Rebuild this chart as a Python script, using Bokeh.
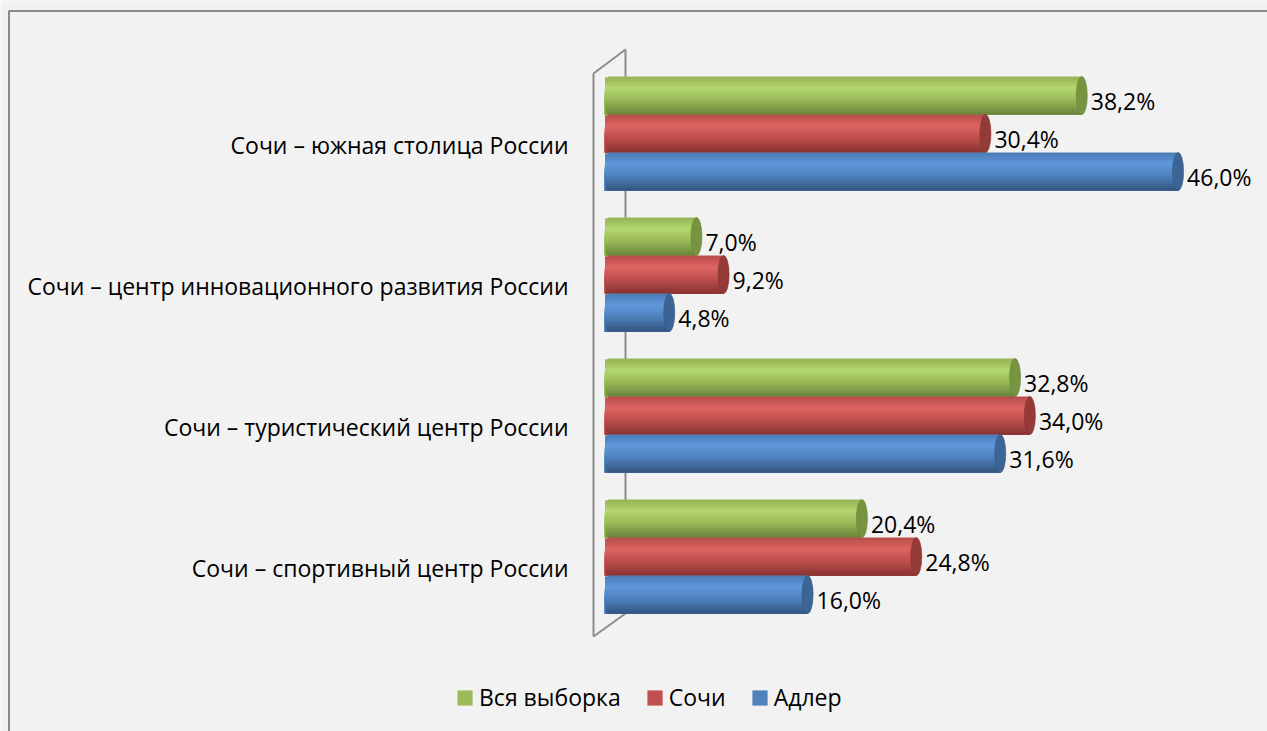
import numpy as np
from bokeh.plotting import figure
from bokeh.models import Range1d, ColumnDataSource, Legend, LegendItem
from bokeh.embed import file_html
from bokeh.resources import INLINE
from bokeh.core.properties import value

# ---------------- data ----------------
categories = [
    "Сочи – южная столица России",
    "Сочи – центр инновационного развития России",
    "Сочи – туристический центр России",
    "Сочи – спортивный центр России",
]
series_names = ["Вся выборка", "Сочи", "Адлер"]
vals_all = [38.2, 7.0, 32.8, 20.4]
vals_sochi = [30.4, 9.2, 34.0, 24.8]
vals_adler = [46.0, 4.8, 31.6, 16.0]
series_values = [vals_all, vals_sochi, vals_adler]

# colours: (highlight, mid, dark, cap)
palettes = [
    ("#B4D76E", "#9BBB59", "#66843A", "#779540"),
    ("#DE6562", "#C0504D", "#873231", "#943B38"),
    ("#5F99DA", "#4F81BD", "#33557F", "#3C6494"),
]

# ---------------- layout ----------------
W, H = 1267, 731
X0_PX = 609.5       # px of value 0
PX_PER = 12.35      # px per percent
Y0_PX = 133.0       # px of first group centre
GROUP_PX = 141.0
BAR_H = 38.0 / GROUP_PX
R = 5.5 / PX_PER    # end-cap radius in data units
FONT = "Open Sans"
FS = "23px"

p = figure(width=W, height=H, output_backend="svg", toolbar_location=None,
           x_range=Range1d(-X0_PX / PX_PER, (W - X0_PX) / PX_PER),
           y_range=Range1d((H - Y0_PX) / GROUP_PX, -Y0_PX / GROUP_PX),
           x_axis_location=None, y_axis_location=None, min_border=0)
p.grid.visible = False
p.outline_line_color = None
p.background_fill_color = "#F2F2F2"
p.border_fill_color = "#F2F2F2"


def px2x(px):
    return (px - X0_PX) / PX_PER


def px2y(py):
    return (py - Y0_PX) / GROUP_PX


# chart border (left and top)
p.line([px2x(8.5), px2x(8.5), px2x(W + 5)], [px2y(H + 5), px2y(10.5), px2y(10.5)],
       line_color="#8A8A8A", line_width=2)

# 3-D wall of the category axis
fx, bx = px2x(593), px2x(625)
wall = "#8C8C8C"
p.line([bx, bx], [px2y(49), px2y(613)], line_color=wall, line_width=2)
p.line([fx, bx], [px2y(73), px2y(49)], line_color=wall, line_width=2)
p.line([fx, fx], [px2y(73), px2y(636)], line_color=wall, line_width=2)
p.line([fx, bx], [px2y(636), px2y(613)], line_color=wall, line_width=2)


def hex2rgb(h):
    h = h.lstrip("#")
    return np.array([int(h[i:i + 2], 16) for i in (0, 2, 4)], dtype=float)


def rgb2hex(c):
    c = np.clip(np.round(c), 0, 255).astype(int)
    return "#%02x%02x%02x" % tuple(c)


def grad(pal, u):
    hi, mid, dk = hex2rgb(pal[0]), hex2rgb(pal[1]), hex2rgb(pal[2])
    top = mid * 0.95
    stops = [(0.0, top), (0.3, hi), (0.6, mid), (1.0, dk)]
    for (u0, c0), (u1, c1) in zip(stops[:-1], stops[1:]):
        if u <= u1:
            f = (u - u0) / (u1 - u0)
            return c0 + (c1 - c0) * f
    return dk


N = 16
offsets = [-BAR_H, 0.0, BAR_H]
base_renderers = []
for s, (vals, pal) in enumerate(zip(series_values, palettes)):
    ypos = [g + offsets[s] for g in range(len(vals))]
    # base layer (flat colour, also used for the legend swatch)
    base = ColumnDataSource(dict(y=ypos, left=[-R * 0.9] * len(vals), right=vals))
    br = p.hbar(y="y", left="left", right="right", height=BAR_H * 0.96,
                fill_color=pal[1], line_color=None, source=base)
    base_renderers.append(br)
    # shading strips: each strip runs from its own top edge down to the bar
    # bottom, later strips cover the earlier ones -> no visible seams
    ys, hs, lefts, rights, cols = [], [], [], [], []
    for g, v in enumerate(vals):
        bottom = ypos[g] + BAR_H / 2
        for k in range(N):
            u0 = k / N
            t = 2 * ((k + 0.5) / N) - 1
            top = ypos[g] - BAR_H / 2 + u0 * BAR_H
            ys.append((top + bottom) / 2)
            hs.append(bottom - top)
            lefts.append(-R * np.sqrt(max(1 - t * t, 0)))
            rights.append(v)
            cols.append(rgb2hex(grad(pal, (k + 0.5) / N)))
    src = ColumnDataSource(dict(y=ys, h=hs, left=lefts, right=rights, c=cols))
    p.hbar(y="y", left="left", right="right", height="h",
           fill_color="c", line_color=None, source=src)
    cap = ColumnDataSource(dict(x=vals, y=ypos))
    p.ellipse(x="x", y="y", width=2 * R, height=BAR_H, fill_color=pal[3],
              line_color=pal[2], line_width=0.6, source=cap)
    lab = ColumnDataSource(dict(x=vals, y=ypos,
                                t=[("%.1f%%" % v).replace(".", ",") for v in vals]))
    p.text(x="x", y="y", text="t", source=lab, x_offset=9, y_offset=5,
           text_align="left", text_baseline="middle", text_font=value(FONT),
           text_font_size=FS, text_color="#000000")

# category labels
cat_src = ColumnDataSource(dict(x=[px2x(568)] * len(categories),
                                y=list(range(len(categories))), t=categories))
p.text(x="x", y="y", text="t", source=cat_src, y_offset=11, text_align="right",
       text_baseline="middle", text_font=value(FONT), text_font_size=FS,
       text_color="#000000")

# legend
items = [LegendItem(label=name, renderers=[r], index=0)
         for name, r in zip(series_names, base_renderers)]
leg = Legend(items=items, orientation="horizontal", location=(455, 18),
             glyph_width=19, glyph_height=19, label_height=19, label_standoff=5,
             spacing=24, padding=0, margin=0, border_line_color=None,
             background_fill_alpha=0, label_text_font=FONT,
             label_text_font_size=FS, label_text_color="#000000")
p.add_layout(leg)

open("out.html", "w").write(file_html(p, INLINE))
